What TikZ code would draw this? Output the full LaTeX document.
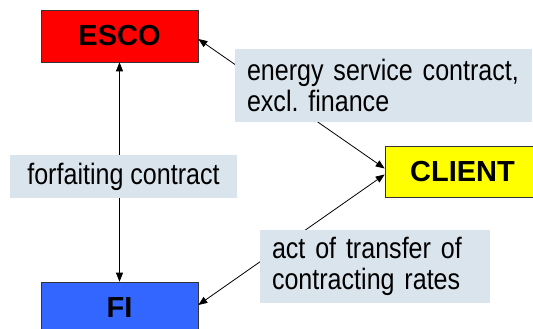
\documentclass[tikz,border=0pt]{standalone}
\usepackage{fontspec}
\setmainfont{Liberation Sans}
\newfontfamily\narrowsf{Liberation Sans}[FakeStretch=0.85]
\usetikzlibrary{arrows.meta, positioning}
\definecolor{escored}{HTML}{FF0000}
\definecolor{clientyellow}{HTML}{FFFF00}
\definecolor{fiblue}{HTML}{3366FF}
\definecolor{dealgray}{HTML}{DAE4EC}

\begin{document}
\begin{tikzpicture}[x=1pt, y=-1pt,
    party/.style={draw=black!80, line width=0.6pt, minimum width=157pt, minimum height=52pt,
        font=\fontsize{29}{31}\selectfont\bfseries},
    deal/.style={fill=dealgray, inner xsep=12pt, font=\fontsize{29.5}{31}\narrowsf, align=left},
    link/.style={{Triangle[length=9pt,width=7pt]}-{Triangle[length=9pt,width=7pt]}, line width=0.8pt}]
    \useasboundingbox (0,0) rectangle (533,329);
    \node[party, fill=escored] (esco) at (119.5,36) {ESCO};
    \node[party, fill=fiblue] (fi) at (119.5,308) {FI};
    \node[party, fill=clientyellow, minimum width=155pt, minimum height=51pt] (client) at (462.5,171.5) {CLIENT};
    \draw[link] (esco) -- (fi);
    \draw[link] ([yshift=-3pt]esco.east) -- ([yshift=3pt]client.west);
    \draw[link] ([yshift=-3pt]client.west) -- ([yshift=3pt]fi.east);
    \node[deal, minimum width=297pt, minimum height=73pt, text width=273pt] (service) at (383.5,85.5)
        {energy service contract,\\excl.\ finance};
    \node[deal, align=center, minimum width=227pt, minimum height=43pt] (forfait) at (123.5,176.5)
        {forfaiting contract};
    \node[deal, minimum width=230pt, minimum height=73pt, text width=206pt] (transfer) at (375,266.5)
        {act of transfer of\\contracting rates};
\end{tikzpicture}
\end{document}
